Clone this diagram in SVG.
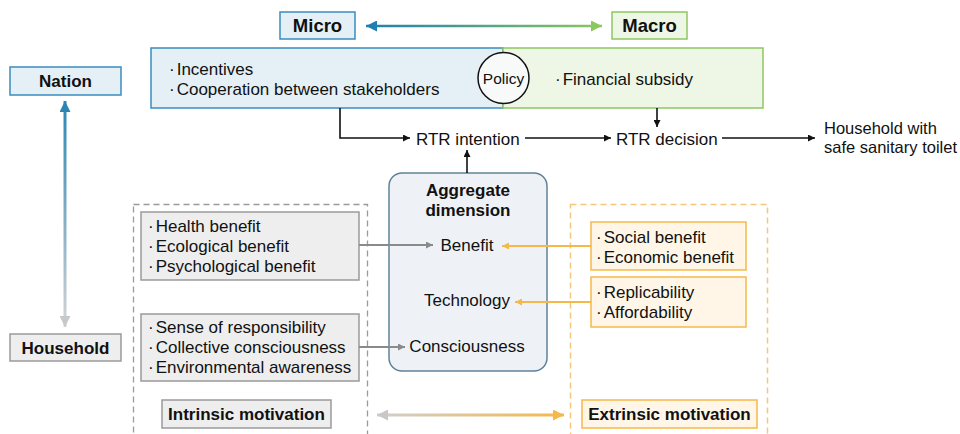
<svg xmlns="http://www.w3.org/2000/svg" width="960" height="434" viewBox="0 0 960 434">
  <defs>
    <style>
      text { font-family: "Liberation Sans", Arial, sans-serif; fill: #111; }
      .t { font-size: 17px; }
      .b { font-size: 17px; font-weight: bold; }
      .mid { text-anchor: middle; }
      .blueBox { fill: #e4f0f6; stroke: #3a8dbd; stroke-width: 1.5; }
      .greenBox { fill: #eef6e6; stroke: #8cc760; stroke-width: 1.5; }
      .grayBox { fill: #eeeeee; stroke: #9a9a9a; stroke-width: 1.5; }
      .orangeBox { fill: #fff6e8; stroke: #f5b94a; stroke-width: 1.5; }
      .blk { stroke: #111; stroke-width: 1.6; fill: none; }
      .gry { stroke: #8a8a8a; stroke-width: 1.8; fill: none; }
      .org { stroke: #f5b94a; stroke-width: 1.8; fill: none; }
    </style>
    <marker id="mBlack" viewBox="0 0 10 10" refX="10" refY="5" markerUnits="userSpaceOnUse" markerWidth="8" markerHeight="7" orient="auto">
      <path d="M0,0 L10,5 L0,10 z" fill="#111"/>
    </marker>
    <marker id="mGray" viewBox="0 0 10 10" refX="10" refY="5" markerUnits="userSpaceOnUse" markerWidth="8" markerHeight="7" orient="auto">
      <path d="M0,0 L10,5 L0,10 z" fill="#8a8a8a"/>
    </marker>
    <marker id="mOrange" viewBox="0 0 10 10" refX="10" refY="5" markerUnits="userSpaceOnUse" markerWidth="8" markerHeight="7" orient="auto">
      <path d="M0,0 L10,5 L0,10 z" fill="#f5b94a"/>
    </marker>
    <marker id="mBlueStart" viewBox="0 0 10 10" refX="10" refY="5" markerUnits="userSpaceOnUse" markerWidth="11" markerHeight="11" orient="auto-start-reverse">
      <path d="M0,0 L10,5 L0,10 z" fill="#1f7fb0"/>
    </marker>
    <marker id="mGreenEnd" viewBox="0 0 10 10" refX="10" refY="5" markerUnits="userSpaceOnUse" markerWidth="11" markerHeight="11" orient="auto">
      <path d="M0,0 L10,5 L0,10 z" fill="#8cc760"/>
    </marker>
    <marker id="mBlueUp" viewBox="0 0 10 10" refX="10" refY="5" markerUnits="userSpaceOnUse" markerWidth="11" markerHeight="11" orient="auto-start-reverse">
      <path d="M0,0 L10,5 L0,10 z" fill="#2a85b5"/>
    </marker>
    <marker id="mLightGray" viewBox="0 0 10 10" refX="10" refY="5" markerUnits="userSpaceOnUse" markerWidth="11" markerHeight="11" orient="auto-start-reverse">
      <path d="M0,0 L10,5 L0,10 z" fill="#c8c8c8"/>
    </marker>
    <marker id="mOrangeBig" viewBox="0 0 10 10" refX="10" refY="5" markerUnits="userSpaceOnUse" markerWidth="11" markerHeight="11" orient="auto">
      <path d="M0,0 L10,5 L0,10 z" fill="#f5b94a"/>
    </marker>
    <linearGradient id="gMicroMacro" gradientUnits="userSpaceOnUse" x1="365" y1="0" x2="602" y2="0">
      <stop offset="0" stop-color="#1f7fb0"/>
      <stop offset="1" stop-color="#8cc760"/>
    </linearGradient>
    <linearGradient id="gNation" gradientUnits="userSpaceOnUse" x1="0" y1="100" x2="0" y2="327">
      <stop offset="0" stop-color="#2a85b5"/>
      <stop offset="1" stop-color="#d4d4d4"/>
    </linearGradient>
    <linearGradient id="gMotive" gradientUnits="userSpaceOnUse" x1="376" y1="0" x2="564" y2="0">
      <stop offset="0" stop-color="#cfcfcf"/>
      <stop offset="1" stop-color="#f5b94a"/>
    </linearGradient>
  </defs>

  <!-- dashed motivation frames -->
  <rect x="133.5" y="204.5" width="234" height="240" fill="none" stroke="#9a9a9a" stroke-width="1.3" stroke-dasharray="6 4"/>
  <rect x="570.5" y="204.5" width="197" height="240" fill="none" stroke="#f5c878" stroke-width="1.5" stroke-dasharray="6 4"/>

  <!-- scale nodes -->
  <g id="micro">
    <rect class="blueBox" x="280" y="12" width="75" height="27"/>
    <text class="b mid" x="317.5" y="32" style="font-size:18.5px">Micro</text>
  </g>
  <g id="macro">
    <rect class="greenBox" x="612" y="12" width="75" height="27"/>
    <text class="b mid" x="649.5" y="32" style="font-size:18.5px">Macro</text>
  </g>
  <g id="nation">
    <rect class="blueBox" x="10" y="67" width="111" height="28"/>
    <text class="b mid" x="65.5" y="87">Nation</text>
  </g>
  <g id="household">
    <rect class="grayBox" x="10" y="334" width="111" height="27"/>
    <text class="b mid" x="65.5" y="353.5">Household</text>
  </g>

  <!-- policy box -->
  <g id="policy-micro">
    <rect class="blueBox" x="151" y="48" width="352" height="60"/>
    <text class="t" x="169" y="75">·<tspan dx="2">Incentives</tspan></text>
    <text class="t" x="169" y="95">·<tspan dx="2">Cooperation between stakeholders</tspan></text>
  </g>
  <g id="policy-macro">
    <rect class="greenBox" x="503" y="48" width="260" height="60"/>
    <text class="t" x="555" y="85">·<tspan dx="2">Financial subsidy</tspan></text>
  </g>
  <g id="policy">
    <circle cx="503.5" cy="78" r="25.5" fill="#f8fafa" stroke="#111" stroke-width="1.5"/>
    <text class="t mid" x="503.5" y="83.5" style="font-size:15.5px">Policy</text>
  </g>

  <!-- decision chain -->
  <g id="rtr-intention">
    <text class="t" x="416" y="144.5">RTR intention</text>
  </g>
  <g id="rtr-decision">
    <text class="t" x="616" y="144.5">RTR decision</text>
  </g>
  <g id="outcome">
    <text class="t" x="824" y="134" style="font-size:16.5px">Household with</text>
    <text class="t" x="824" y="153" style="font-size:16.5px">safe sanitary toilet</text>
  </g>

  <!-- aggregate dimension -->
  <g id="aggregate">
    <rect x="389" y="173" width="158" height="198" rx="13" fill="#eef2f6" stroke="#5f8299" stroke-width="1.5"/>
    <text class="b mid" x="468" y="196">Aggregate</text>
    <text class="b mid" x="468" y="216">dimension</text>
    <text class="t mid" x="467" y="251">Benefit</text>
    <text class="t mid" x="467" y="306">Technology</text>
    <text class="t mid" x="467" y="352">Consciousness</text>
  </g>

  <!-- intrinsic factors -->
  <g id="intrinsic-benefit">
    <rect class="grayBox" x="141" y="212" width="218" height="68"/>
    <text class="t" x="148" y="232">·<tspan dx="2">Health benefit</tspan></text>
    <text class="t" x="148" y="252">·<tspan dx="2">Ecological benefit</tspan></text>
    <text class="t" x="148" y="272">·<tspan dx="2">Psychological benefit</tspan></text>
  </g>
  <g id="intrinsic-consciousness">
    <rect class="grayBox" x="141" y="314" width="218" height="67"/>
    <text class="t" x="148" y="333">·<tspan dx="2">Sense of responsibility</tspan></text>
    <text class="t" x="148" y="353">·<tspan dx="2">Collective consciousness</tspan></text>
    <text class="t" x="148" y="373">·<tspan dx="2">Environmental awareness</tspan></text>
  </g>
  <g id="intrinsic-motivation">
    <rect class="grayBox" x="162" y="400" width="169" height="28"/>
    <text class="b mid" x="246.5" y="420">Intrinsic motivation</text>
  </g>

  <!-- extrinsic factors -->
  <g id="extrinsic-benefit">
    <rect class="orangeBox" x="591" y="222" width="155" height="48"/>
    <text class="t" x="596" y="243">·<tspan dx="2">Social benefit</tspan></text>
    <text class="t" x="596" y="263">·<tspan dx="2">Economic benefit</tspan></text>
  </g>
  <g id="extrinsic-technology">
    <rect class="orangeBox" x="591" y="277" width="155" height="50"/>
    <text class="t" x="596" y="298">·<tspan dx="2">Replicability</tspan></text>
    <text class="t" x="596" y="318">·<tspan dx="2">Affordability</tspan></text>
  </g>
  <g id="extrinsic-motivation">
    <rect class="orangeBox" x="582" y="400" width="175" height="28"/>
    <text class="b mid" x="669.5" y="420">Extrinsic motivation</text>
  </g>

  <!-- connectors -->
  <g id="connectors">
    <line x1="366" y1="26" x2="602" y2="26" stroke="url(#gMicroMacro)" stroke-width="2.6" marker-start="url(#mBlueStart)" marker-end="url(#mGreenEnd)"/>
    <line x1="65" y1="101" x2="65" y2="327" stroke="url(#gNation)" stroke-width="3" marker-start="url(#mBlueUp)" marker-end="url(#mLightGray)"/>
    <line x1="377" y1="415" x2="564" y2="415" stroke="url(#gMotive)" stroke-width="3" marker-start="url(#mLightGray)" marker-end="url(#mOrangeBig)"/>

    <path class="blk" d="M340,108 V138 H410" marker-end="url(#mBlack)"/>
    <line class="blk" x1="525" y1="138" x2="611" y2="138" marker-end="url(#mBlack)"/>
    <line class="blk" x1="722" y1="138" x2="815" y2="138" marker-end="url(#mBlack)"/>
    <line class="blk" x1="657" y1="108" x2="657" y2="127" marker-end="url(#mBlack)"/>
    <line class="blk" x1="467" y1="173" x2="467" y2="150" marker-end="url(#mBlack)"/>

    <line class="gry" x1="359" y1="245" x2="433" y2="245" marker-end="url(#mGray)"/>
    <line class="gry" x1="359" y1="347" x2="405" y2="347" marker-end="url(#mGray)"/>

    <line class="org" x1="591" y1="246" x2="502" y2="246" marker-end="url(#mOrange)"/>
    <line class="org" x1="591" y1="302" x2="515" y2="302" marker-end="url(#mOrange)"/>
  </g>
</svg>
